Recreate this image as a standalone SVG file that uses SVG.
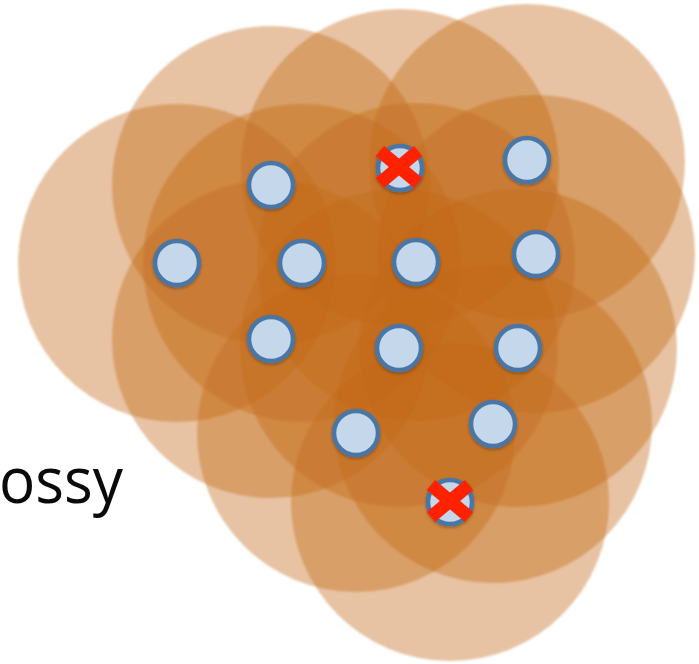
<svg xmlns="http://www.w3.org/2000/svg" width="699" height="664" viewBox="0 0 699 664">
  <style>
    .range { fill: #C46A14; fill-opacity: 0.4; }
    .node { fill: #C5D7EA; stroke: #4A76A5; stroke-width: 4.5; }
    .x { fill: #FF2300; }
    .label { font-family: "Open Sans", "Liberation Sans", sans-serif; font-size: 64px; fill: #0a0a0a; }
  </style>
  <defs>
    <filter id="soft" x="-10%" y="-10%" width="120%" height="120%">
      <feGaussianBlur stdDeviation="0.8"/>
    </filter>
    <filter id="shadow" x="-40%" y="-40%" width="180%" height="180%">
      <feDropShadow dx="0" dy="1.5" stdDeviation="1.5" flood-color="#000" flood-opacity="0.3"/>
    </filter>
    <g id="cross">
      <rect class="x" x="-25" y="-6.5" width="50" height="13" transform="rotate(40)"/>
      <rect class="x" x="-25" y="-6.5" width="50" height="13" transform="rotate(-40)"/>
    </g>
  </defs>
  <rect width="699" height="664" fill="#ffffff"/>
  <g id="ranges" filter="url(#soft)">
    <circle id="r1" class="range" cx="177" cy="263" r="159"/>
    <circle id="r2" class="range" cx="271" cy="185" r="159"/>
    <circle id="r3" class="range" cx="302" cy="263" r="159"/>
    <circle id="r4" class="range" cx="271" cy="339" r="159"/>
    <circle id="r5" class="range" cx="400" cy="168" r="159"/>
    <circle id="r6" class="range" cx="527" cy="162" r="158"/>
    <circle id="r7" class="range" cx="416" cy="262" r="159"/>
    <circle id="r8" class="range" cx="536" cy="254" r="159"/>
    <circle id="r9" class="range" cx="399" cy="348" r="159"/>
    <circle id="r10" class="range" cx="518" cy="348" r="159"/>
    <circle id="r11" class="range" cx="356" cy="433" r="159"/>
    <circle id="r12" class="range" cx="493" cy="424" r="159"/>
    <circle id="r13" class="range" cx="450" cy="502" r="159"/>
  </g>
  <g id="connectors"></g>
  <g id="n1" filter="url(#shadow)"><circle class="node" cx="177" cy="263" r="22"/></g>
  <g id="n2" filter="url(#shadow)"><circle class="node" cx="271" cy="185" r="22"/></g>
  <g id="n3" filter="url(#shadow)"><circle class="node" cx="302" cy="263" r="22"/></g>
  <g id="n4" filter="url(#shadow)"><circle class="node" cx="271" cy="339" r="22"/></g>
  <g id="n5" filter="url(#shadow)"><circle class="node" cx="400" cy="168" r="22"/><use href="#cross" x="399" y="167"/></g>
  <g id="n6" filter="url(#shadow)"><circle class="node" cx="527" cy="160" r="22"/></g>
  <g id="n7" filter="url(#shadow)"><circle class="node" cx="416" cy="262" r="22"/></g>
  <g id="n8" filter="url(#shadow)"><circle class="node" cx="536" cy="254" r="22"/></g>
  <g id="n9" filter="url(#shadow)"><circle class="node" cx="399" cy="348" r="22"/></g>
  <g id="n10" filter="url(#shadow)"><circle class="node" cx="518" cy="348" r="22"/></g>
  <g id="n11" filter="url(#shadow)"><circle class="node" cx="356" cy="433" r="22"/></g>
  <g id="n12" filter="url(#shadow)"><circle class="node" cx="493" cy="424" r="22"/></g>
  <g id="n13" filter="url(#shadow)"><circle class="node" cx="450" cy="502" r="22"/><use href="#cross" x="450" y="501"/></g>
  <text class="label" x="-1" y="503" textLength="124" lengthAdjust="spacingAndGlyphs">ossy</text>
</svg>
